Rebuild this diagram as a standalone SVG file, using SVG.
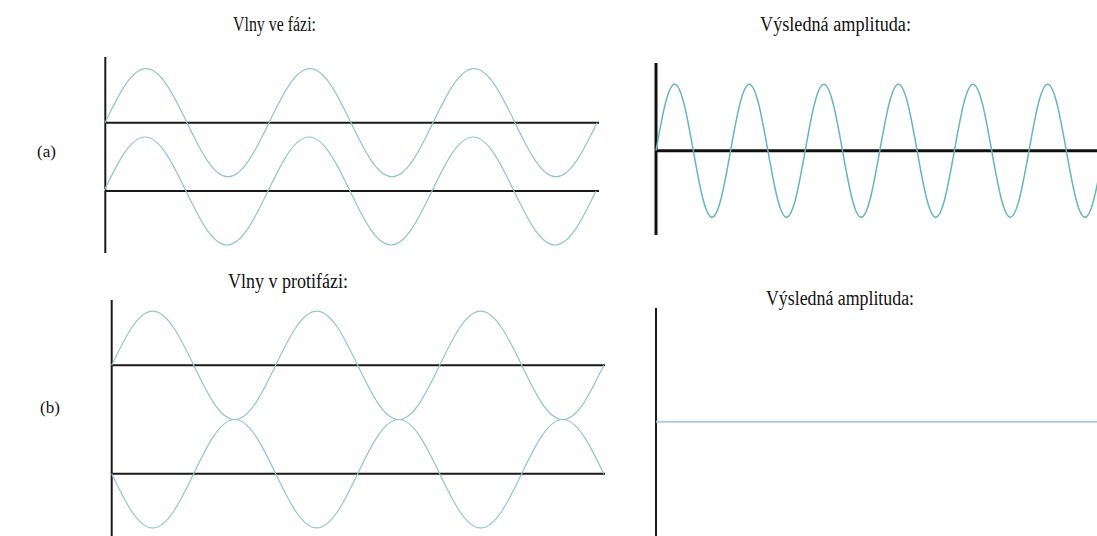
<svg xmlns="http://www.w3.org/2000/svg" width="1097" height="536" viewBox="0 0 1097 536">
<style>
.lbl{font-family:"Liberation Serif","Times New Roman",serif;font-size:20px;fill:#111}
.tag{font-family:"Liberation Serif","Times New Roman",serif;font-size:17px;fill:#111}
.ax{stroke:#1a1a1a;stroke-width:2;fill:none}
.axb{stroke:#111;stroke-width:3;fill:none}
.wv{stroke:#8fc6cc;stroke-width:1.2;fill:none}
.wvr{stroke:#66b4be;stroke-width:1.5;fill:none}
.flat{stroke:#a9cfd2;stroke-width:2;fill:none}
</style>
<rect width="1097" height="536" fill="#fff"/>
<g id="labels">
<text class="lbl" x="233" y="31" textLength="83" lengthAdjust="spacingAndGlyphs">Vlny ve fázi:</text>
<text class="lbl" x="760" y="31" textLength="151" lengthAdjust="spacingAndGlyphs">Výsledná amplituda:</text>
<text class="lbl" x="228" y="288" textLength="120" lengthAdjust="spacingAndGlyphs">Vlny v protifázi:</text>
<text class="lbl" x="766" y="305" textLength="148" lengthAdjust="spacingAndGlyphs">Výsledná amplituda:</text>
<text class="tag" x="37" y="157">(a)</text>
<text class="tag" x="40" y="413">(b)</text>
</g>
<g id="panel-a-waves">
<line class="ax" x1="105.3" y1="57" x2="105.3" y2="253"/>
<line class="ax" x1="105" y1="122.7" x2="599" y2="122.7"/>
<line class="ax" x1="105" y1="191" x2="599" y2="191"/>
<path class="wv" d="M105,122.7 c13.37,-27.66 26.16,-54 41,-54 s27.63,26.34 41,54 s26.16,54 41,54 s27.63,-26.34 41,-54 s26.16,-54 41,-54 s27.63,26.34 41,54 s26.16,54 41,54 s27.63,-26.34 41,-54 s26.16,-54 41,-54 s27.63,26.34 41,54 s26.16,54 41,54 s27.63,-26.34 41,-54"/>
<path class="wv" d="M104,191 c13.37,-27.66 26.16,-54 41,-54 s27.63,26.34 41,54 s26.16,54 41,54 s27.63,-26.34 41,-54 s26.16,-54 41,-54 s27.63,26.34 41,54 s26.16,54 41,54 s27.63,-26.34 41,-54 s26.16,-54 41,-54 s27.63,26.34 41,54 s26.16,54 41,54 s27.63,-26.34 41,-54"/>
</g>
<g id="panel-a-result">
<line class="axb" x1="656" y1="63" x2="656" y2="235"/>
<line class="axb" x1="656" y1="150.7" x2="1097" y2="150.7"/>
<path class="wvr" d="M656,150.7 c6.08,-34.07 11.9,-66.5 18.65,-66.5 s12.57,32.43 18.65,66.5 s11.9,66.5 18.65,66.5 s12.57,-32.43 18.65,-66.5 s11.9,-66.5 18.65,-66.5 s12.57,32.43 18.65,66.5 s11.9,66.5 18.65,66.5 s12.57,-32.43 18.65,-66.5 s11.9,-66.5 18.65,-66.5 s12.57,32.43 18.65,66.5 s11.9,66.5 18.65,66.5 s12.57,-32.43 18.65,-66.5 s11.9,-66.5 18.65,-66.5 s12.57,32.43 18.65,66.5 s11.9,66.5 18.65,66.5 s12.57,-32.43 18.65,-66.5 s11.9,-66.5 18.65,-66.5 s12.57,32.43 18.65,66.5 s11.9,66.5 18.65,66.5 s12.57,-32.43 18.65,-66.5 s11.9,-66.5 18.65,-66.5 s12.57,32.43 18.65,66.5 s11.9,66.5 18.65,66.5 s12.57,-32.43 18.65,-66.5"/>
</g>
<g id="panel-b-waves">
<line class="ax" x1="111.7" y1="300" x2="111.7" y2="536"/>
<line class="ax" x1="111.7" y1="365.3" x2="605" y2="365.3"/>
<line class="ax" x1="111.7" y1="473.7" x2="605" y2="473.7"/>
<path class="wv" d="M111.7,365.3 c13.37,-27.77 26.16,-54.2 41,-54.2 s27.63,26.43 41,54.2 s26.16,54.2 41,54.2 s27.63,-26.43 41,-54.2 s26.16,-54.2 41,-54.2 s27.63,26.43 41,54.2 s26.16,54.2 41,54.2 s27.63,-26.43 41,-54.2 s26.16,-54.2 41,-54.2 s27.63,26.43 41,54.2 s26.16,54.2 41,54.2 s27.63,-26.43 41,-54.2"/>
<path class="wv" d="M111.7,473.7 c13.37,27.77 26.16,54.2 41,54.2 s27.63,-26.43 41,-54.2 s26.16,-54.2 41,-54.2 s27.63,26.43 41,54.2 s26.16,54.2 41,54.2 s27.63,-26.43 41,-54.2 s26.16,-54.2 41,-54.2 s27.63,26.43 41,54.2 s26.16,54.2 41,54.2 s27.63,-26.43 41,-54.2 s26.16,-54.2 41,-54.2 s27.63,26.43 41,54.2"/>
</g>
<g id="panel-b-result">
<line class="ax" x1="656" y1="308" x2="656" y2="536"/>
<line class="flat" x1="656" y1="421.7" x2="1097" y2="421.7"/>
</g>
</svg>
